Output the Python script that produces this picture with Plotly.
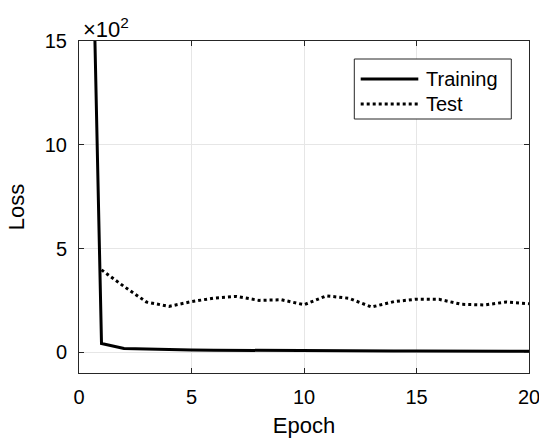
import plotly.graph_objects as go

# ---- data (loss values, real units) ----
train_epochs = list(range(0, 21))
train_loss = [5040, 42, 18, 15, 13, 11, 10, 9, 8.5, 8, 7.5, 7, 6.5, 6, 5.8, 5.5, 5.2, 5, 4.8, 4.6, 4.5]
test_epochs = list(range(1, 21))
test_loss = [397, 317, 242, 221, 244, 261, 269, 250, 253, 229, 272, 260, 218, 244, 256, 255, 231, 228, 242, 234]

x_ticks = [0, 5, 10, 15, 20]
y_ticks = [0, 500, 1000, 1500]
y_tick_text = ["0", "5", "10", "15"]
series_names = ["Training", "Test"]

FONT = "Liberation Sans, Arial, Helvetica, sans-serif"
AX = "#262626"
GRID = "#e6e6e6"

fig = go.Figure()
fig.add_trace(go.Scatter(x=train_epochs, y=train_loss, mode="lines", name=series_names[0],
                         line=dict(color="black", width=3), showlegend=False))
fig.add_trace(go.Scatter(x=test_epochs, y=test_loss, mode="lines", name=series_names[1],
                         line=dict(color="black", width=3, dash="3px,3px"), showlegend=False))

W, H = 539, 438
ML, MR, MT, MB = 79, 10, 41, 65
PW, PH = W - ML - MR, H - MT - MB

def px(xp):
    return (xp - ML) / PW

def py(yp):
    return (H - MB - yp) / PH

# legend box (drawn manually to match long line samples)
fig.add_shape(type="rect", xref="paper", yref="paper",
              x0=px(354.3), x1=px(511.3), y0=py(119), y1=py(59),
              line=dict(color=AX, width=1), fillcolor="white", layer="above")
fig.add_shape(type="line", xref="paper", yref="paper",
              x0=px(360.7), x1=px(418.3), y0=py(79), y1=py(79),
              line=dict(color="black", width=3), layer="above")
fig.add_shape(type="line", xref="paper", yref="paper",
              x0=px(360.7), x1=px(418.3), y0=py(104), y1=py(104),
              line=dict(color="black", width=3, dash="3px,3px"), layer="above")
for name, yy in zip(series_names, [79, 104]):
    fig.add_annotation(text=name, xref="paper", yref="paper", x=px(424), y=py(yy),
                       xanchor="left", yanchor="middle", showarrow=False,
                       font=dict(family=FONT, size=20, color="black"))

# exponent label
fig.add_annotation(text="×10<sup>2</sup>", xref="paper", yref="paper", x=px(81), y=1,
                   xanchor="left", yanchor="bottom", yshift=-3, showarrow=False,
                   font=dict(family=FONT, size=22, color="black"))

axis_common = dict(showline=True, linecolor=AX, linewidth=1, mirror="ticks",
                   ticks="inside", ticklen=5, tickcolor=AX, tickwidth=1,
                   showgrid=True, gridcolor=GRID, gridwidth=1, zeroline=False,
                   ticklabeloverflow="allow", automargin=False,
                   tickfont=dict(family=FONT, size=20, color="black"))

fig.update_xaxes(range=[0, 20], tickvals=x_ticks, ticklabelstandoff=6,
                 title=dict(text="Epoch", font=dict(family=FONT, size=22, color="black"), standoff=12),
                 **axis_common)
fig.update_yaxes(range=[-100, 1500], tickvals=y_ticks, ticktext=y_tick_text, ticklabelstandoff=7,
                 title=dict(text="Loss", font=dict(family=FONT, size=22, color="black"), standoff=14),
                 **axis_common)

fig.update_layout(width=W, height=H, margin=dict(l=ML, r=MR, t=MT, b=MB, autoexpand=False),
                  plot_bgcolor="white", paper_bgcolor="white", showlegend=False)

fig.write_html("out.html")
